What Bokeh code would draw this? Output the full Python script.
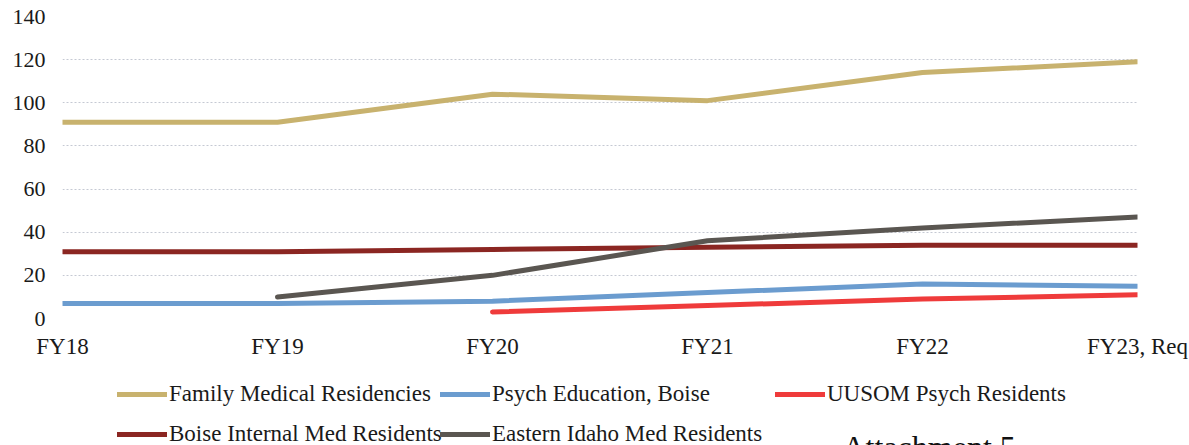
from bokeh.plotting import figure
from bokeh.layouts import column
from bokeh.models import Range1d, FixedTicker, Legend, LegendItem, Label
from bokeh.embed import file_html
from bokeh.resources import INLINE

NaN = float("nan")

categories = ["FY18", "FY19", "FY20", "FY21", "FY22", "FY23, Req"]
family_medical = [91, 91, 104, 101, 114, 119]
psych_education_boise = [7, 7, 8, 12, 16, 15]
uusom_psych = [NaN, NaN, 3, 6, 9, 11]
boise_internal_med = [31, 31, 32, 33, 34, 34]
eastern_idaho_med = [NaN, 10, 20, 36, 42, 47]
y_ticks = [0, 20, 40, 60, 80, 100, 120, 140]

FONT = "Liberation Serif"
TEXT = "#1a1a1a"
x = list(range(len(categories)))

series = [
    ("Family Medical Residencies", family_medical, "#c8b26e"),
    ("Boise Internal Med Residents", boise_internal_med, "#8b2622"),
    ("Psych Education, Boise", psych_education_boise, "#6b9ccf"),
    ("UUSOM Psych Residents", uusom_psych, "#ef3b3b"),
    ("Eastern Idaho Med Residents", eastern_idaho_med, "#5a5651"),
]

W = 1189
H1, H2 = 378, 67

# ---- chart ----
p = figure(width=W, height=H1, output_backend="svg", toolbar_location=None,
           x_range=Range1d(0, len(categories) - 1), y_range=Range1d(0, 140),
           min_border_left=62, min_border_right=52, min_border_top=16, min_border_bottom=60)
p.outline_line_color = None
p.background_fill_color = "white"
p.border_fill_color = "white"

for name, vals, col in series:
    p.line(x, vals, line_color=col, line_width=5, line_cap="round", line_join="round")

p.xaxis.ticker = FixedTicker(ticks=x)
p.xaxis.major_label_overrides = {i: c for i, c in enumerate(categories)}
p.yaxis.ticker = FixedTicker(ticks=y_ticks)
for ax in (p.xaxis[0], p.yaxis[0]):
    ax.axis_line_color = None
    ax.major_tick_line_color = None
    ax.minor_tick_line_color = None
    ax.major_tick_out = 0
    ax.major_tick_in = 0
    ax.major_label_text_font = FONT
    ax.major_label_text_color = TEXT
p.xaxis.major_label_text_font_size = "23px"
p.yaxis.major_label_text_font_size = "22px"
p.xaxis.major_label_standoff = 15
p.yaxis.major_label_standoff = 17

p.xgrid.grid_line_color = None
p.ygrid.grid_line_color = "#c5c9d3"
p.ygrid.grid_line_dash = "2 2"
p.ygrid.grid_line_width = 1

# ---- legend strip (its frame is aligned with the chart's frame: left edge at x=62) ----
q = figure(width=W, height=H2, output_backend="svg", toolbar_location=None,
           x_range=Range1d(0, 1), y_range=Range1d(0, 1),
           x_axis_location=None, y_axis_location=None,
           min_border_left=0, min_border_right=0, min_border_top=0, min_border_bottom=0)
q.outline_line_color = None
q.background_fill_color = "white"
q.border_fill_color = "white"
for g in q.grid:
    g.visible = False

keys = {}
for name, vals, col in series:
    keys[name] = q.line([NaN], [NaN], line_color=col, line_width=5, line_cap="round")


def make_legend(names, loc):
    lg = Legend(items=[LegendItem(label=n, renderers=[keys[n]]) for n in names],
                location=loc, orientation="vertical")
    lg.padding = 0
    lg.margin = 0
    lg.spacing = 0
    lg.glyph_width = 50
    lg.glyph_height = 40
    lg.label_height = 40
    lg.label_standoff = 2
    lg.border_line_color = None
    lg.background_fill_alpha = 0
    lg.label_text_font = FONT
    lg.label_text_font_size = "23px"
    lg.label_text_color = TEXT
    q.add_layout(lg, "center")


make_legend(["Family Medical Residencies", "Boise Internal Med Residents"], (55, -9))
make_legend(["Psych Education, Boise", "Eastern Idaho Med Residents"], (378, -9))
make_legend(["UUSOM Psych Residents"], (713, 31))

att = Label(x=780, y=-1, x_units="screen", y_units="screen", text="Attachment 5",
            text_font=FONT, text_font_size="32px", text_color="#111111",
            text_baseline="alphabetic")
q.add_layout(att)

layout = column(p, q, spacing=0)
open("out.html", "w").write(file_html(layout, INLINE))
